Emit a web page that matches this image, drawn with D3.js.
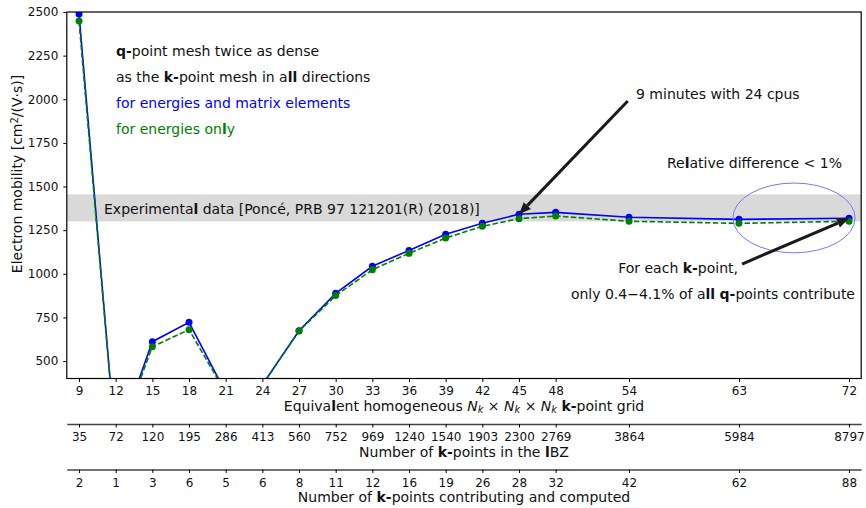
<!DOCTYPE html>
<html>
<head>
<meta charset="utf-8">
<script src="https://cdn.jsdelivr.net/npm/d3@7"></script>
<style>
  html, body { margin: 0; padding: 0; background: #fff; }
  svg { display: block; font-family: "DejaVu Sans", sans-serif; }
</style>
</head>
<body>
<svg id="chart" width="866" height="508"></svg>
<script>
// Equivalent homogeneous N_k x N_k x N_k k-point grids
const grid = [9, 12, 15, 18, 21, 24, 27, 30, 33, 36, 39, 42, 45, 48, 54, 63, 72];
// Number of k-points in the IBZ for each grid
const nkIBZ = [35, 72, 120, 195, 286, 413, 560, 752, 969, 1240, 1540, 1903, 2300, 2769, 3864, 5984, 8797];
// Number of k-points contributing and computed
const nkContrib = [2, 1, 3, 6, 5, 6, 8, 11, 12, 16, 19, 26, 28, 32, 42, 62, 88];
// Electron mobility [cm^2/(V s)], interpolation for energies and matrix elements
const mobilityFull = [2489, 18, 611, 722, 320, 364, 674, 888, 1043, 1134, 1226, 1290, 1341, 1352, 1324, 1312, 1318];
// Electron mobility, interpolation for energies only
const mobilityEnergies = [2448, 18, 582, 680, 318, 362, 672, 875, 1023, 1117, 1205, 1272, 1316, 1331, 1301, 1289, 1301];
// Y-axis ticks
const yTicks = [500, 750, 1000, 1250, 1500, 1750, 2000, 2250, 2500];
// Experimental range
const expRange = [1300, 1455];

const svg = d3.select("#chart");
const FONT = "DejaVu Sans";

const x = d3.scaleLinear().domain([8, 73]).range([66.8, 861.2]);
const y = d3.scaleLinear().domain([400, 2500]).range([378.5, 12]);
const [x0, x1] = x.range();
const [yb, yt] = y.range();

// Rich text helper: segments {t, b (bold), i (italic), sub, sup}
function rich(sel, segs) {
  segs.forEach(s => {
    const ts = sel.append("tspan").text(s.t);
    if (s.b) ts.attr("font-weight", "bold");
    if (s.i) ts.attr("font-style", "italic");
    if (s.sub) ts.attr("baseline-shift", "-22%").attr("font-size", "70%");
    if (s.sup) ts.attr("baseline-shift", "38%").attr("font-size", "70%");
  });
  return sel;
}

svg.append("clipPath").attr("id", "plotclip")
  .append("rect").attr("x", x0).attr("y", yt).attr("width", x1 - x0).attr("height", yb - yt);

const plot = svg.append("g").attr("clip-path", "url(#plotclip)");

// Experimental band
plot.append("rect")
  .attr("x", x0).attr("width", x1 - x0)
  .attr("y", y(expRange[1])).attr("height", y(expRange[0]) - y(expRange[1]))
  .attr("fill", "#d9d9d9");

rich(svg.append("text").attr("x", 104).attr("y", 214).attr("font-size", 14).attr("fill", "#111"),
  [{t: "Experimenta"}, {t: "l", b: true}, {t: " data [Poncé, PRB 97 121201(R) (2018)]"}]);

const line = d3.line().x((d, i) => x(grid[i])).y(d => y(d));

// Energies and matrix elements (blue, solid)
plot.append("path").datum(mobilityFull)
  .attr("d", line).attr("fill", "none").attr("stroke", "#0000ff").attr("stroke-width", 1.6);
plot.selectAll("circle.full").data(mobilityFull).enter().append("circle")
  .attr("class", "full")
  .attr("cx", (d, i) => x(grid[i])).attr("cy", d => y(d)).attr("r", 3.5)
  .attr("fill", "#0000ff");

// Energies only (green, dashed)
plot.append("path").datum(mobilityEnergies)
  .attr("d", line).attr("fill", "none").attr("stroke", "#008000").attr("stroke-width", 1.6)
  .attr("stroke-dasharray", "5.5,2.4");
plot.selectAll("circle.en").data(mobilityEnergies).enter().append("circle")
  .attr("class", "en")
  .attr("cx", (d, i) => x(grid[i])).attr("cy", d => y(d)).attr("r", 3.5)
  .attr("fill", "#008000");

// Ellipse around the converged points
plot.append("ellipse")
  .attr("cx", x(67.5)).attr("cy", y(1320))
  .attr("rx", x(67.5 + 5) - x(67.5)).attr("ry", y(1320) - y(1520))
  .attr("fill", "none").attr("stroke", "#7878ff").attr("stroke-width", 1);

// Frame
svg.append("rect").attr("x", x0).attr("y", yt).attr("width", x1 - x0).attr("height", yb - yt)
  .attr("fill", "none").attr("stroke", "#000").attr("stroke-width", 1.2);

// Axes
function styleAxis(g) {
  g.selectAll("text").attr("font-family", FONT).attr("font-size", 12).attr("fill", "#111");
  g.selectAll(".tick line").attr("stroke", "#000").attr("stroke-width", 1);
}
const xAxis = svg.append("g").attr("transform", `translate(0,${yb})`)
  .call(d3.axisBottom(x).tickValues(grid).tickSize(3.5).tickPadding(4.5).tickFormat(d3.format("d")));
xAxis.select(".domain").remove();
styleAxis(xAxis);

const yAxis = svg.append("g").attr("transform", `translate(${x0},0)`)
  .call(d3.axisLeft(y).tickValues(yTicks).tickSize(3.5).tickPadding(5).tickFormat(d3.format("d")));
yAxis.select(".domain").remove();
styleAxis(yAxis);

// Secondary axes underneath
function secondary(yPos, labels) {
  const g = svg.append("g").attr("transform", `translate(0,${yPos})`)
    .call(d3.axisBottom(x).tickValues(grid).tickSize(3.5).tickSizeOuter(0).tickPadding(5)
      .tickFormat((d, i) => labels[i]));
  g.select(".domain").attr("stroke", "#444").attr("stroke-width", 1.6);
  styleAxis(g);
  return g;
}
secondary(424, nkIBZ);
secondary(469.5, nkContrib);

// Axis titles
const xmid = (x0 + x1) / 2;
rich(svg.append("text").attr("x", xmid).attr("y", 411).attr("text-anchor", "middle").attr("font-size", 14).attr("fill", "#111"),
  [{t: "Equiva"}, {t: "l", b: true}, {t: "ent homogeneous "}, {t: "N", i: true}, {t: "k", i: true, sub: true},
   {t: " × "}, {t: "N", i: true}, {t: "k", i: true, sub: true}, {t: " × "}, {t: "N", i: true}, {t: "k", i: true, sub: true},
   {t: " "}, {t: "k-", b: true}, {t: "point grid"}]);
rich(svg.append("text").attr("x", xmid).attr("y", 457).attr("text-anchor", "middle").attr("font-size", 14).attr("fill", "#111"),
  [{t: "Number of "}, {t: "k-", b: true}, {t: "points in the "}, {t: "l", b: true}, {t: "BZ"}]);
rich(svg.append("text").attr("x", xmid).attr("y", 502).attr("text-anchor", "middle").attr("font-size", 14).attr("fill", "#111"),
  [{t: "Number of "}, {t: "k-", b: true}, {t: "points contributing and computed"}]);
rich(svg.append("text").attr("transform", "translate(22,174) rotate(-90)").attr("text-anchor", "middle")
  .attr("font-size", 14).attr("fill", "#111"),
  [{t: "Electron mobility [cm"}, {t: "2", sup: true}, {t: "/(V·s)]"}]);

// Legend-like notes
const notes = svg.append("g").attr("font-size", 14);
rich(notes.append("text").attr("x", 116).attr("y", 56).attr("fill", "#111"),
  [{t: "q-", b: true}, {t: "point mesh twice as dense"}]);
rich(notes.append("text").attr("x", 116).attr("y", 82).attr("fill", "#111"),
  [{t: "as the "}, {t: "k-", b: true}, {t: "point mesh in a"}, {t: "ll", b: true}, {t: " directions"}]);
rich(notes.append("text").attr("x", 116).attr("y", 108).attr("fill", "#0000ff"),
  [{t: "for energies and matrix elements"}]);
rich(notes.append("text").attr("x", 116).attr("y", 134).attr("fill", "#008000"),
  [{t: "for energies on"}, {t: "l", b: true}, {t: "y"}]);

// Annotations with arrows
function arrow(fromX, fromY, toX, toY) {
  const x1p = x(fromX), y1p = y(fromY), x2p = x(toX), y2p = y(toY);
  const ang = Math.atan2(y2p - y1p, x2p - x1p);
  const L = 12, Wd = 5;
  const bx = x2p - L * Math.cos(ang), by = y2p - L * Math.sin(ang);
  svg.append("line").attr("x1", x1p).attr("y1", y1p).attr("x2", bx).attr("y2", by)
    .attr("stroke", "#1a1a1a").attr("stroke-width", 3);
  const px = -Math.sin(ang), py = Math.cos(ang);
  svg.append("path")
    .attr("d", `M${x2p},${y2p}L${bx + px * Wd},${by + py * Wd}L${bx - px * Wd},${by - py * Wd}Z`)
    .attr("fill", "#1a1a1a");
}
arrow(53.9, 1990, 45, mobilityFull[12]);
arrow(63.25, 1056, 72, mobilityFull[16]);

svg.append("text").attr("x", 636).attr("y", 99).attr("font-size", 14).attr("fill", "#111")
  .text("9 minutes with 24 cpus");
rich(svg.append("text").attr("x", 667).attr("y", 168).attr("font-size", 14).attr("fill", "#111"),
  [{t: "Re"}, {t: "l", b: true}, {t: "ative difference < 1%"}]);
rich(svg.append("text").attr("x", 738).attr("y", 273).attr("text-anchor", "end").attr("font-size", 14).attr("fill", "#111"),
  [{t: "For each "}, {t: "k-", b: true}, {t: "point,"}]);
rich(svg.append("text").attr("x", 855).attr("y", 299).attr("text-anchor", "end").attr("font-size", 14).attr("fill", "#111"),
  [{t: "only 0.4−4.1% of a"}, {t: "ll", b: true}, {t: " "}, {t: "q-", b: true}, {t: "points contribute"}]);
</script>
</body>
</html>
